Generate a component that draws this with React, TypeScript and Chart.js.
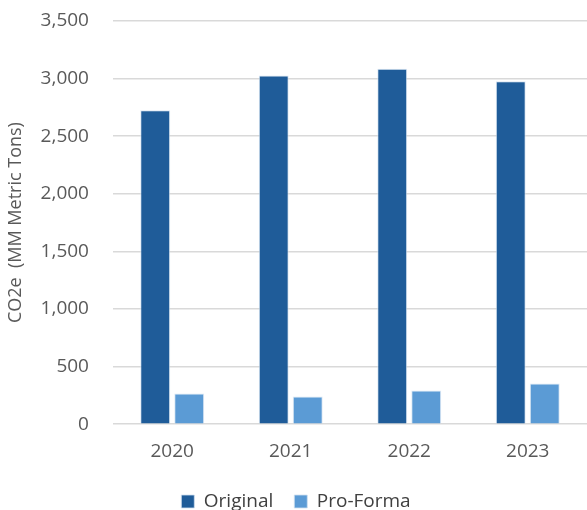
import React, { useEffect, useRef } from "react";
import { Chart, registerables } from "chart.js";

Chart.register(...registerables);

const categories = ["2020", "2021", "2022", "2023"];
const originalValues = [2725, 3027, 3085, 2978];
const proFormaValues = [267, 241, 293, 354];
const yTicks = [0, 500, 1000, 1500, 2000, 2500, 3000, 3500];
const yTitle = "CO2e  (MM Metric Tons)";

export default function App() {
  const ref = useRef<HTMLCanvasElement | null>(null);
  useEffect(() => {
    document.body.style.margin = "0";
    const font = "'Open Sans', sans-serif";
    const chart = new Chart(ref.current!, {
      type: "bar",
      data: {
        labels: categories,
        datasets: [
          {
            label: "Original",
            data: originalValues,
            backgroundColor: "#1F5C99",
            borderColor: "rgba(210,225,240,0.8)",
            borderWidth: 1,
            categoryPercentage: 0.574,
            barPercentage: 0.88,
          },
          {
            label: "Pro-Forma",
            data: proFormaValues,
            backgroundColor: "#5B9BD5",
            borderColor: "rgba(210,225,240,0.8)",
            borderWidth: 1,
            categoryPercentage: 0.574,
            barPercentage: 0.88,
          },
        ],
      },
      options: {
        animation: false,
        responsive: false,
        maintainAspectRatio: false,
        layout: { padding: { top: 21, left: 5, right: 0, bottom: -11 } },
        plugins: {
          tooltip: { enabled: false },
          legend: {
            position: "bottom",
            labels: {
              boxWidth: 13,
              boxHeight: 13,
              padding: 21,
              color: "#404040",
              font: { family: font, size: 19 },
            },
          },
        },
        scales: {
          x: {
            grid: { display: false },
            border: { display: false },
            ticks: { color: "#595959", padding: 8, font: { family: font, size: 19 } },
          },
          y: {
            min: 0,
            max: 3500,
            afterBuildTicks: (axis: any) => {
              axis.ticks = yTicks.map((v) => ({ value: v }));
            },
            afterFit: (axis: any) => {
              axis.paddingTop = 0;
              axis.paddingBottom = 0;
            },
            grid: { color: "#d9d9d9", lineWidth: 1.5, drawTicks: false },
            border: { display: false },
            ticks: {
              color: "#595959",
              padding: 24,
              font: { family: font, size: 19 },
              callback: (v: any) => Number(v).toLocaleString("en-US"),
            },
            title: {
              display: true,
              text: yTitle,
              color: "#595959",
              font: { family: font, size: 18 },
              padding: { top: 0, bottom: -10 },
            },
          },
        },
      },
    });
    return () => chart.destroy();
  }, []);
  return (
    <div style={{ width: 587, height: 510 }}>
      <canvas ref={ref} width={587} height={510} />
    </div>
  );
}
